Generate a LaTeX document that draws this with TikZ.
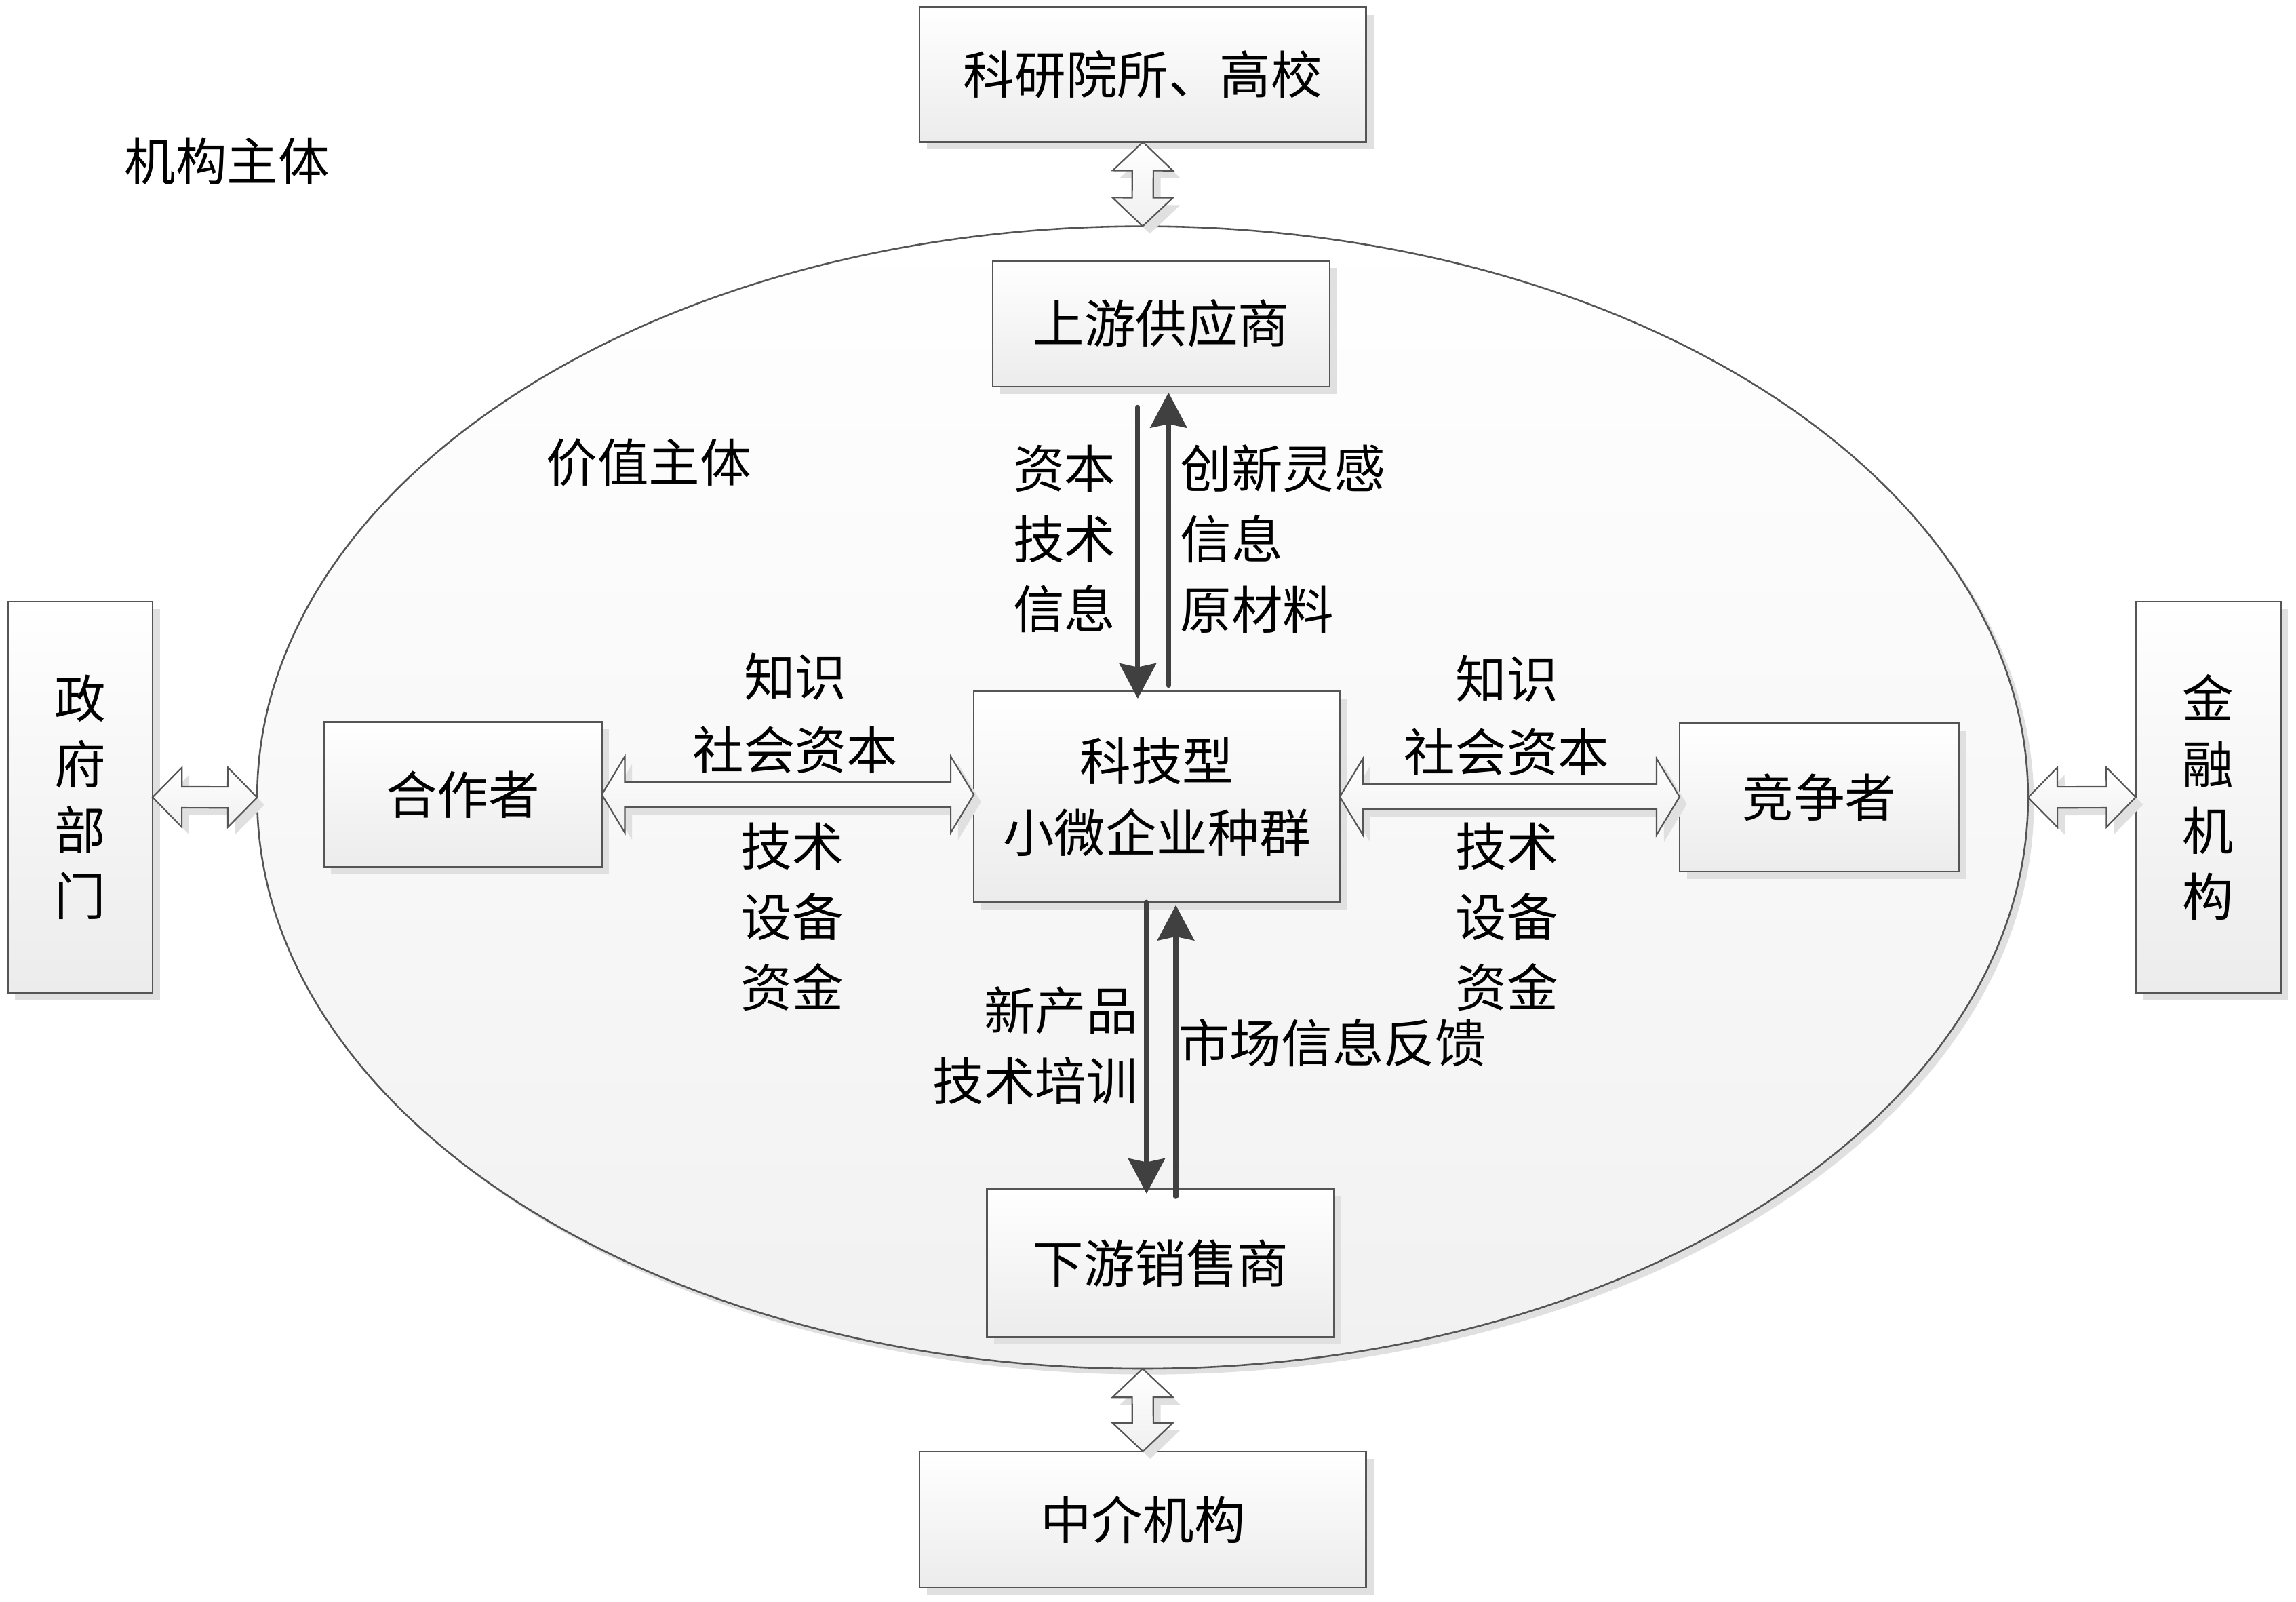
\documentclass[tikz,border=0pt]{standalone}
\usepackage{fontspec}
\newfontfamily\cjk{Noto Sans CJK SC}
\usetikzlibrary{shapes.geometric,shadows,calc,arrows.meta}
\definecolor{bord}{HTML}{555555}
\definecolor{arrgray}{HTML}{404040}
\definecolor{shad}{HTML}{E0E0E0}
\newcommand{\hollowarr}[6][]{%
  \coordinate (ha1) at ($(#2)!#4!(#3)$);
  \coordinate (ha2) at ($(#3)!#4!(#2)$);
  \draw[hollow,#1] (#2) -- ($(ha1)!#5!90:(#2)$) -- ($(ha1)!#6!90:(#2)$)
    -- ($(ha2)!#6!-90:(#3)$) -- ($(ha2)!#5!-90:(#3)$) -- (#3)
    -- ($(ha2)!#5!90:(#3)$) -- ($(ha2)!#6!90:(#3)$)
    -- ($(ha1)!#6!-90:(#2)$) -- ($(ha1)!#5!-90:(#2)$) -- cycle;
}
\begin{document}
\begin{tikzpicture}[x=1pt,y=-1pt,
  every node/.style={font=\cjk\fontsize{35}{48}\selectfont, inner sep=0pt, outer sep=0pt, align=center},
  box/.style={rectangle, draw=bord, line width=1.2pt, top color=white, bottom color=gray!15,
    drop shadow={shadow xshift=5pt, shadow yshift=-5pt, fill=shad, opacity=1}},
  ellbox/.style={ellipse, draw=bord, line width=1.2pt, top color=white, bottom color=gray!11,
    drop shadow={shadow xshift=4pt, shadow yshift=-4pt, fill=shad, opacity=1}},
  hollow/.style={draw=bord, line width=1pt, top color=white, bottom color=gray!12,
    drop shadow={shadow xshift=5pt, shadow yshift=-5pt, fill=shad, opacity=1}},
  darr/.style={draw=arrgray, line width=3.3pt, line cap=round,
    -{Stealth[length=24pt,width=25pt,inset=2.5pt]}},
  vtext/.style={font=\cjk\fontsize{35}{45}\selectfont}
]
\useasboundingbox (0,0) rectangle (1568,1093.8);
\fill[white] (0,0) rectangle (1568,1093.8);

% value-subject ellipse
\node[ellbox, minimum width=1209.4pt, minimum height=780pt] (ell) at (780.3,544.5) {};

% boxes
\node[box, minimum width=305pt, minimum height=92pt] (sci) at (780.5,51) {科研院所、高校};
\node[box, minimum width=230pt, minimum height=86pt] (up) at (793,221) {上游供应商};
\node[box, minimum width=99pt, minimum height=267pt, vtext] (gov) at (54.7,544.3) {政\\府\\部\\门};
\node[box, minimum width=190pt, minimum height=99pt] (coop) at (316,542.5) {合作者};
\node[box, minimum width=250pt, minimum height=144pt, font=\cjk\fontsize{35}{49}\selectfont] (core) at (790,544) {科技型\\小微企业种群};
\node[box, minimum width=191pt, minimum height=101pt] (comp) at (1242.5,544.5) {竞争者};
\node[box, minimum width=99pt, minimum height=267pt, vtext] (fin) at (1508,544.3) {金\\融\\机\\构};
\node[box, minimum width=237pt, minimum height=101pt] (down) at (792.5,862.5) {下游销售商};
\node[box, minimum width=305pt, minimum height=93pt] (inter) at (780.5,1037.5) {中介机构};

% hollow double arrows
\hollowarr{sci.south}{ell.north}{19.5pt}{20.6pt}{7.2pt}
\hollowarr{ell.south}{inter.north}{19.5pt}{20.6pt}{7.2pt}
\hollowarr{gov.east}{ell.west}{20pt}{20.4pt}{7.2pt}
\hollowarr{ell.east}{fin.west}{20pt}{20.4pt}{7.2pt}
\coordinate (cw) at (coop.east -| core.west);
\hollowarr{coop.east}{cw}{15.7pt}{26pt}{8.6pt}
\coordinate (ce) at (core.east -| comp.west);
\hollowarr{core.east}{ce}{15.7pt}{26pt}{8.6pt}

% dark arrows
\draw[darr] ($(up.south)+(-16,14)$) -- ($(core.north)+(-13,5)$);
\draw[darr] ($(core.north)+(8,-4)$) -- ($(up.south)+(5,4)$);
\draw[darr] ($(core.south)+(-7,0)$) -- ($(down.north)+(-9.5,3)$);
\draw[darr] ($(down.north)+(10.5,5)$) -- ($(core.south)+(13,2)$);

% labels
\node (t1) at (155,110) {机构主体};
\node (t2) at (443,316) {价值主体};

\node[anchor=east, align=right] (l1) at (762,368) {资本\\技术\\信息};
\node[anchor=west, align=left] (l2) at (806,368) {创新灵感\\信息\\原材料};
\node[font=\cjk\fontsize{35}{50}\selectfont] (l3) at (543,487) {知识\\社会资本};
\node (l4) at (541,626) {技术\\设备\\资金};
\node[font=\cjk\fontsize{35}{50}\selectfont] (l5) at (1029,488.5) {知识\\社会资本};
\node (l6) at (1029,626) {技术\\设备\\资金};
\node[anchor=east, align=right] (l7) at (777,714) {新产品\\技术培训};
\node[anchor=west] (l8) at (805,712) {市场信息反馈};
\end{tikzpicture}
\end{document}
